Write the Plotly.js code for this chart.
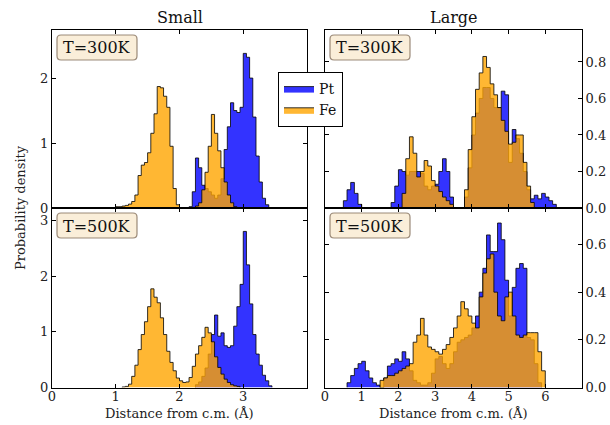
<!DOCTYPE html>
<html>
<head>
<meta charset="utf-8">
<script src="https://cdn.plot.ly/plotly-3.0.1.min.js"></script>
<style>
html,body{margin:0;padding:0;background:#fff;}
#chart{width:610px;height:425px;}
</style>
</head>
<body>
<div id="chart"></div>
<script>
// ---------- data (histogram heights) ----------
const panelTitles = ["Small", "Large"];
const tempLabels = ["T=300K", "T=500K"];
const seriesNames = ["Pt", "Fe"];

const smallBinWidth = 0.05;
const largeBinWidth = 0.1;

// Small cluster, T=300K
const small300PtStart = 2.15;
const small300Pt = [0.02, 0.25, 0.77, 0.62, 0.35, 0.30, 0.25, 0.20, 0.15, 0.20, 0.45, 0.90, 1.25, 1.62, 1.50, 1.47, 1.55, 2.38, 2.32, 2.00, 1.40, 0.80, 0.40, 0.15, 0.05];
const small300FeStart = 1.00;
const small300Fe = [0.02, 0.02, 0.03, 0.04, 0.06, 0.10, 0.20, 0.50, 0.66, 0.70, 0.85, 1.15, 1.45, 1.87, 1.85, 1.72, 1.55, 0.95, 0.30, 0.05, 0, 0, 0, 0, 0, 0.03, 0.08, 0.28, 0.55, 0.95, 1.44, 1.15, 0.88, 0.62, 0.40, 0.20, 0.08, 0.02];

// Small cluster, T=500K
const small500PtStart = 2.25;
const small500Pt = [0.05, 0.10, 0.20, 0.35, 0.60, 0.95, 1.30, 0.92, 0.98, 0.75, 0.72, 0.75, 1.10, 1.45, 1.85, 2.80, 2.20, 1.50, 0.95, 0.60, 0.40, 0.22, 0.12, 0.03];
const small500FeStart = 1.10;
const small500Fe = [0.01, 0.02, 0.06, 0.20, 0.40, 0.68, 0.95, 1.18, 1.45, 1.77, 1.62, 1.52, 1.25, 0.95, 0.65, 0.45, 0.30, 0.17, 0.12, 0.09, 0.10, 0.18, 0.38, 0.60, 0.75, 0.90, 1.08, 0.98, 0.82, 0.55, 0.36, 0.24, 0.15, 0.09, 0.05, 0.03, 0.02];

// Large cluster, T=300K
const large300PtStart = 0.5;
const large300Pt = [0.04, 0.10, 0.14, 0.08, 0.02, 0, 0, 0, 0, 0, 0, 0, 0, 0.03, 0.12, 0.21, 0.20, 0.18, 0.20, 0.20, 0.20, 0.19, 0.12, 0.10, 0.12, 0.13, 0.20, 0.27, 0.20, 0.06, 0, 0, 0, 0.06, 0.22, 0.40, 0.52, 0.60, 0.66, 0.66, 0.60, 0.55, 0.55, 0.64, 0.62, 0.25, 0.43, 0.38, 0.30, 0.20, 0.10, 0.05, 0.07, 0.05, 0.08, 0.06, 0.04, 0.02];
const large300FeStart = 2.1;
const large300Fe = [0.08, 0.27, 0.39, 0.30, 0.17, 0.20, 0.26, 0.23, 0.15, 0.12, 0.09, 0.06, 0.04, 0.02, 0, 0, 0, 0.10, 0.32, 0.50, 0.65, 0.74, 0.83, 0.77, 0.68, 0.62, 0.55, 0.48, 0.42, 0.35, 0.36, 0.40, 0.40, 0.25, 0.12, 0.03];

// Large cluster, T=500K
const large500PtStart = 0.6;
const large500Pt = [0.02, 0.05, 0.08, 0.10, 0.11, 0.07, 0.04, 0.02, 0.01, 0, 0.04, 0.09, 0.10, 0.12, 0.11, 0.15, 0.12, 0.07, 0.03, 0.02, 0.01, 0.01, 0.02, 0.06, 0.12, 0.13, 0.10, 0.08, 0.10, 0.15, 0.19, 0.20, 0.21, 0.22, 0.25, 0.30, 0.40, 0.50, 0.64, 0.57, 0.57, 0.69, 0.62, 0.45, 0.30, 0.42, 0.50, 0.52, 0.50, 0.21, 0.20, 0.10, 0.02];
const large500FeStart = 1.5;
const large500Fe = [0.03, 0.04, 0.05, 0.05, 0.06, 0.07, 0.08, 0.09, 0.10, 0.19, 0.22, 0.29, 0.22, 0.17, 0.16, 0.15, 0.14, 0.16, 0.18, 0.21, 0.25, 0.30, 0.36, 0.33, 0.30, 0.27, 0.25, 0.38, 0.48, 0.54, 0.56, 0.40, 0.30, 0.28, 0.38, 0.40, 0.30, 0.22, 0.21, 0.22, 0.23, 0.23, 0.23, 0.15, 0.07];

const smallXTicks = [0, 1, 2, 3];
const largeXTicks = [0, 1, 2, 3, 4, 5, 6];
const small300YTicks = [0, 1, 2];
const small500YTicks = [0, 1, 2, 3];
const large300YTicks = [0, 0.2, 0.4, 0.6, 0.8];
const large500YTicks = [0, 0.2, 0.4, 0.6];
const xTitle = "Distance from c.m. (Å)";
const yTitle = "Probability density";

// ---------- styling ----------
const W = 610, H = 425;
const FONT = "DejaVu Serif, Liberation Serif, serif";
const ptFill = "rgba(0,0,255,0.8)";
const feFill = "rgba(255,165,0,0.8)";
const edge = "rgba(0,0,0,0.8)";
const px = x => x / W;
const py = y => 1 - y / H;

function stepTrace(start, width, vals, name, fill, xa, ya, showlegend) {
  const xs = [start], ys = [0];
  vals.forEach((v, i) => { xs.push(start + i * width); ys.push(v); });
  xs.push(start + vals.length * width); ys.push(0);
  return {
    type: "scatter", mode: "lines", x: xs, y: ys,
    line: {shape: "hv", color: edge, width: 1},
    fill: "tozeroy", fillcolor: fill,
    name: name, showlegend: showlegend, legendgroup: name,
    xaxis: xa, yaxis: ya, hoverinfo: "skip"
  };
}

const data = [
  stepTrace(small300PtStart, smallBinWidth, small300Pt, seriesNames[0], ptFill, "x", "y", true),
  stepTrace(small300FeStart, smallBinWidth, small300Fe, seriesNames[1], feFill, "x", "y", true),
  stepTrace(large300PtStart, largeBinWidth, large300Pt, seriesNames[0], ptFill, "x2", "y2", false),
  stepTrace(large300FeStart, largeBinWidth, large300Fe, seriesNames[1], feFill, "x2", "y2", false),
  stepTrace(small500PtStart, smallBinWidth, small500Pt, seriesNames[0], ptFill, "x3", "y3", false),
  stepTrace(small500FeStart, smallBinWidth, small500Fe, seriesNames[1], feFill, "x3", "y3", false),
  stepTrace(large500PtStart, largeBinWidth, large500Pt, seriesNames[0], ptFill, "x4", "y4", false),
  stepTrace(large500FeStart, largeBinWidth, large500Fe, seriesNames[1], feFill, "x4", "y4", false)
];

const leftDom = [px(52), px(307)];
const rightDom = [px(325), px(582)];
const topDom = [py(208), py(30)];
const botDom = [py(387.5), py(208)];

const tickFont = {family: FONT, size: 13, color: "#222"};
function xAxis(dom, anchor, range, ticks, labels) {
  return {domain: dom, anchor: anchor, range: range, tickvals: ticks, showticklabels: labels,
    ticks: "inside", ticklen: 4, tickcolor: "#000", mirror: "ticks", showline: true,
    linecolor: "#000", linewidth: 1, showgrid: false, zeroline: false, tickfont: tickFont,
    ticklabelstandoff: -3, fixedrange: true};
}
function yAxis(dom, anchor, range, ticks, side, fmt) {
  return {domain: dom, anchor: anchor, range: range, tickvals: ticks, side: side, tickformat: fmt,
    ticks: "inside", ticklen: 4, tickcolor: "#000", mirror: "ticks", showline: true,
    linecolor: "#000", linewidth: 1, showgrid: false, zeroline: false, tickfont: tickFont, fixedrange: true};
}

function roundBox(x0, y0, x1, y1, r) {
  const X = v => px(v).toFixed(5), Y = v => py(v).toFixed(5);
  return "M" + X(x0 + r) + "," + Y(y0) + " L" + X(x1 - r) + "," + Y(y0) +
    " Q" + X(x1) + "," + Y(y0) + " " + X(x1) + "," + Y(y0 + r) +
    " L" + X(x1) + "," + Y(y1 - r) +
    " Q" + X(x1) + "," + Y(y1) + " " + X(x1 - r) + "," + Y(y1) +
    " L" + X(x0 + r) + "," + Y(y1) +
    " Q" + X(x0) + "," + Y(y1) + " " + X(x0) + "," + Y(y1 - r) +
    " L" + X(x0) + "," + Y(y0 + r) +
    " Q" + X(x0) + "," + Y(y0) + " " + X(x0 + r) + "," + Y(y0) + " Z";
}
const boxes = [[57, 35], [330, 35], [57, 213], [330, 213]];
const shapes = boxes.map(b => ({
  type: "path", xref: "paper", yref: "paper",
  path: roundBox(b[0], b[1], b[0] + 80, b[1] + 25, 4),
  fillcolor: "rgba(245,222,179,0.5)", line: {color: "rgba(130,110,90,0.8)", width: 1.2}, layer: "above"
}));

const annotations = [];
boxes.forEach((b, i) => {
  annotations.push({xref: "paper", yref: "paper", x: px(b[0] + 40), y: py(b[1] + 13),
    text: tempLabels[i < 2 ? 0 : 1], showarrow: false, xanchor: "center", yanchor: "middle",
    font: {family: FONT, size: 16, color: "#111"}});
});
annotations.push({xref: "paper", yref: "paper", x: px(179.5), y: py(17), text: panelTitles[0],
  showarrow: false, xanchor: "center", yanchor: "middle", font: {family: FONT, size: 16, color: "#111"}});
annotations.push({xref: "paper", yref: "paper", x: px(453.5), y: py(17), text: panelTitles[1],
  showarrow: false, xanchor: "center", yanchor: "middle", font: {family: FONT, size: 16, color: "#111"}});
annotations.push({xref: "paper", yref: "paper", x: px(179.5), y: py(413), text: xTitle,
  showarrow: false, xanchor: "center", yanchor: "middle", font: {family: FONT, size: 13, color: "#222"}});
annotations.push({xref: "paper", yref: "paper", x: px(453.5), y: py(413), text: xTitle,
  showarrow: false, xanchor: "center", yanchor: "middle", font: {family: FONT, size: 13, color: "#222"}});
annotations.push({xref: "paper", yref: "paper", x: px(20), y: py(208), text: yTitle, textangle: -90,
  showarrow: false, xanchor: "center", yanchor: "middle", font: {family: FONT, size: 13, color: "#222"}});

const layout = {
  width: W, height: H,
  margin: {l: 0, r: 0, t: 0, b: 0},
  paper_bgcolor: "#fff", plot_bgcolor: "#fff",
  font: {family: FONT},
  showlegend: true,
  legend: {x: px(278), y: py(72), xanchor: "left", yanchor: "top",
    bgcolor: "#fff", bordercolor: "#000", borderwidth: 1,
    font: {family: FONT, size: 14, color: "#111"}, tracegroupgap: 0, itemwidth: 30},
  xaxis: xAxis(leftDom, "y", [0, 4], smallXTicks, false),
  yaxis: yAxis(topDom, "x", [0, 2.74], small300YTicks, "left", ""),
  xaxis2: xAxis(rightDom, "y2", [0, 7], largeXTicks, false),
  yaxis2: yAxis(topDom, "x2", [0, 0.975], large300YTicks, "right", ".1f"),
  xaxis3: xAxis(leftDom, "y3", [0, 4], smallXTicks, true),
  yaxis3: yAxis(botDom, "x3", [0, 3.22], small500YTicks, "left", ""),
  xaxis4: xAxis(rightDom, "y4", [0, 7], largeXTicks, true),
  yaxis4: yAxis(botDom, "x4", [0, 0.753], large500YTicks, "right", ".1f"),
  shapes: shapes,
  annotations: annotations
};

Plotly.newPlot("chart", data, layout, {displayModeBar: false, staticPlot: true});
</script>
</body>
</html>
